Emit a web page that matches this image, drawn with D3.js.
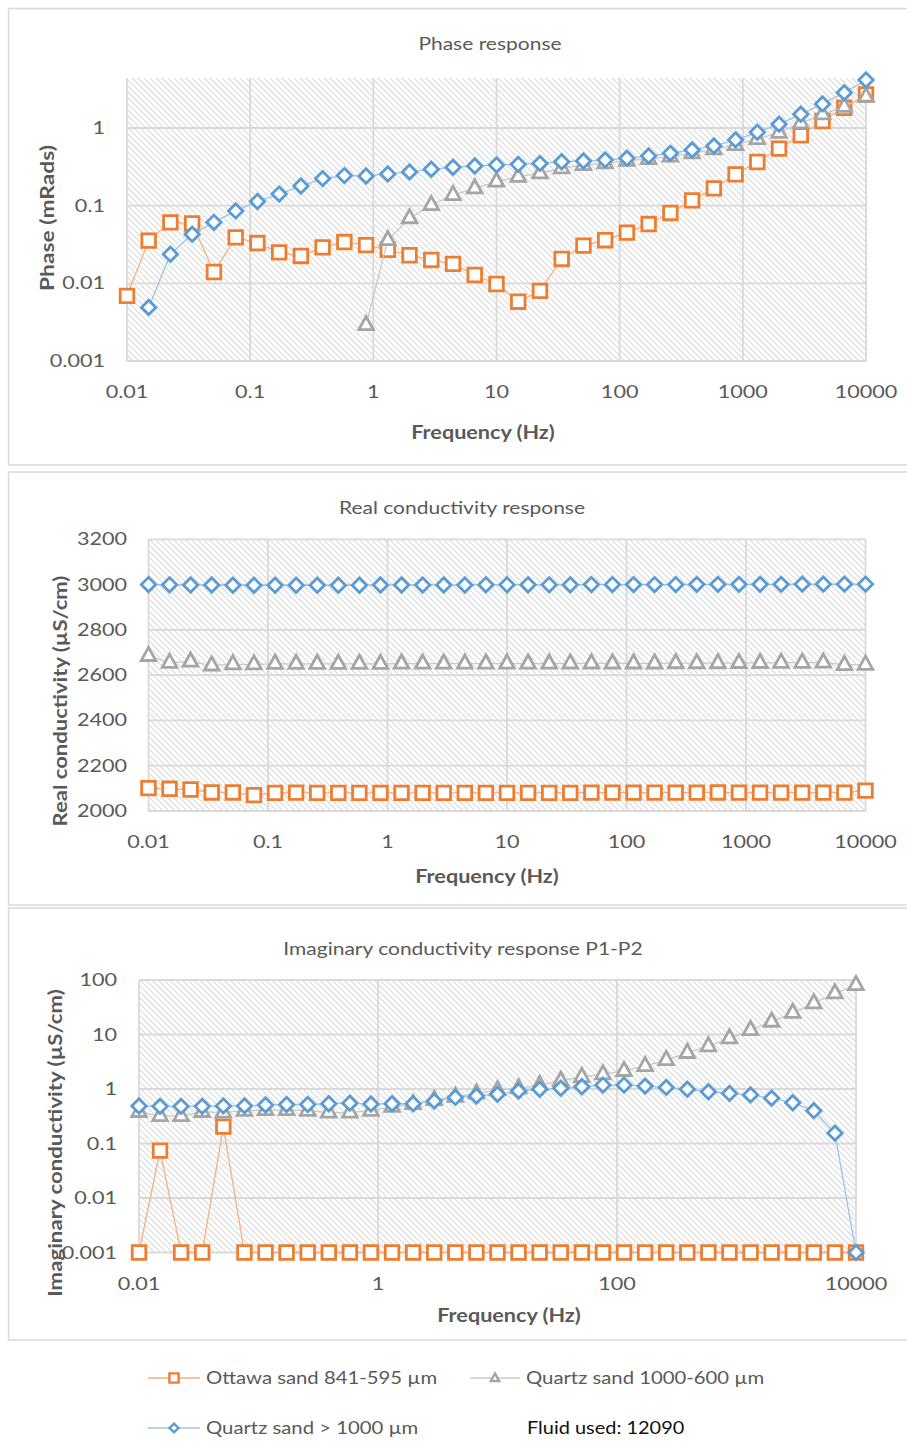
<!DOCTYPE html>
<html>
<head>
<meta charset="utf-8">
<script src="https://cdn.jsdelivr.net/npm/d3@7"></script>
<style>
  body { margin: 0; background: #fff; }
  svg { display: block; }
</style>
</head>
<body>
<div id="chart"></div>
<script>
// measurement frequencies (Hz), 35 steps from 0.01 to 10000
const frequencies = [0.01, 0.015, 0.0225, 0.0338, 0.0508, 0.0763, 0.1145, 0.1719, 0.2581, 0.3875,
    0.5818, 0.8733, 1.311, 1.968, 2.955, 4.437, 6.661, 10, 15.01, 22.54, 33.84, 50.81, 76.28,
    114.5, 171.9, 258.1, 387.5, 581.8, 873.3, 1311, 1968, 2955, 4437, 6661, 10000];

const seriesNames = ['Ottawa sand 841-595 µm', 'Quartz sand 1000-600 µm', 'Quartz sand > 1000 µm'];

// Phase (mRads)
const ottawaPhase = [0.0069, 0.0355, 0.061, 0.059, 0.014, 0.039, 0.033, 0.025, 0.0225, 0.029,
    0.034, 0.031, 0.027, 0.023, 0.020, 0.0178, 0.0128, 0.0098, 0.0058, 0.008, 0.0206, 0.0306,
    0.0359, 0.045, 0.058, 0.0805, 0.117, 0.167, 0.253, 0.365, 0.542, 0.805, 1.23, 1.82, 2.7];
const quartzFinePhase = [null, null, null, null, null, null, null, null, null, null, null,
    0.0029, 0.036, 0.069, 0.102, 0.137, 0.167, 0.204, 0.236, 0.261, 0.303, 0.334, 0.351, 0.379,
    0.399, 0.428, 0.472, 0.532, 0.604, 0.722, 0.87, 1.15, 1.5, 1.88, 2.53];
const quartzCoarsePhase = [null, 0.0049, 0.0237, 0.0428, 0.061, 0.0855, 0.113, 0.141, 0.179,
    0.223, 0.244, 0.241, 0.256, 0.272, 0.294, 0.312, 0.324, 0.334, 0.34, 0.35, 0.368, 0.376,
    0.388, 0.407, 0.436, 0.472, 0.521, 0.587, 0.702, 0.88, 1.12, 1.5, 2.04, 2.85, 4.15];

// Real conductivity (µS/cm)
const ottawaReal = [2101, 2098, 2095, 2082, 2082, 2070, 2080, 2081, 2080, 2080, 2080, 2080,
    2080, 2080, 2080, 2080, 2080, 2080, 2080, 2080, 2080, 2081, 2081, 2081, 2081, 2081, 2081,
    2082, 2081, 2081, 2081, 2081, 2081, 2081, 2090];
const quartzFineReal = [2685, 2655, 2660, 2643, 2648, 2648, 2650, 2650, 2650, 2650, 2650, 2650,
    2651, 2651, 2651, 2651, 2651, 2651, 2651, 2651, 2652, 2652, 2652, 2652, 2652, 2653, 2653,
    2653, 2654, 2654, 2655, 2655, 2656, 2645, 2646];
const quartzCoarseReal = [3000, 2999, 2998, 2998, 2997, 2997, 2997, 2997, 2997, 2997, 2997,
    2998, 2998, 2998, 2998, 2998, 2999, 2999, 2999, 2999, 2999, 3000, 3000, 3000, 3000, 3000,
    3001, 3001, 3001, 3001, 3001, 3002, 3002, 3002, 3002];

// Imaginary conductivity (µS/cm)
const ottawaImag = [0.001, 0.074, 0.001, 0.001, 0.204, 0.001, 0.001, 0.001, 0.001, 0.001,
    0.001, 0.001, 0.001, 0.001, 0.001, 0.001, 0.001, 0.001, 0.001, 0.001, 0.001, 0.001, 0.001,
    0.001, 0.001, 0.001, 0.001, 0.001, 0.001, 0.001, 0.001, 0.001, 0.001, 0.001, 0.001];
const quartzFineImag = [0.38, 0.32, 0.32, 0.38, 0.37, 0.40, 0.41, 0.41, 0.40, 0.37, 0.37, 0.40,
    0.47, 0.53, 0.63, 0.72, 0.83, 0.95, 1.03, 1.18, 1.41, 1.66, 1.87, 2.15, 2.65, 3.4, 4.6, 6.1,
    8.5, 12.1, 17.2, 25, 37.5, 57, 81];
const quartzCoarseImag = [0.488, 0.48, 0.48, 0.48, 0.49, 0.49, 0.508, 0.52, 0.52, 0.536, 0.55,
    0.53, 0.536, 0.536, 0.6, 0.70, 0.745, 0.80, 0.92, 0.99, 1.03, 1.10, 1.18, 1.18, 1.13, 1.07,
    0.99, 0.89, 0.83, 0.78, 0.68, 0.56, 0.40, 0.155, 0.001];

// tick values
const freqTicksAll = [0.01, 0.1, 1, 10, 100, 1000, 10000];
const freqTicksSparse = [0.01, 1, 100, 10000];
const phaseTicks = [0.001, 0.01, 0.1, 1];
const realTicks = [2000, 2200, 2400, 2600, 2800, 3000, 3200];
const imagTicks = [0.001, 0.01, 0.1, 1, 10, 100];

const W = 907, H = 1441;
const TEXT = '#595959';
const GRID = '#d9d9d9';
const FONT = 'Lato, "Open Sans", sans-serif';
const STRETCH = 1.2;

const seriesStyles = [
    { marker: 'square', color: '#ed7d31', line: '#f4b183' },
    { marker: 'triangle', color: '#a5a5a5', line: '#c9c9c9' },
    { marker: 'diamond', color: '#5b9bd5', line: '#9dc3e6' }
];

const markerPaths = {
    square: 'M-6.8,-6.8H6.8V6.8H-6.8Z',
    triangle: 'M0,-8.6L7.3,4.6L-7.3,4.6Z',
    diamond: 'M0,-7.2L7.2,0L0,7.2L-7.2,0Z'
};

const svg = d3.select('#chart').append('svg')
    .attr('width', W)
    .attr('height', H)
    .attr('viewBox', [0, 0, W, H]);

const defs = svg.append('defs');
const hatch = defs.append('pattern')
    .attr('id', 'hatch')
    .attr('patternUnits', 'userSpaceOnUse')
    .attr('width', 6)
    .attr('height', 6);
hatch.append('path')
    .attr('d', 'M-1,-1L7,7M-1,5L1,7M5,-1L7,1')
    .attr('stroke', '#dadada')
    .attr('stroke-width', 1.1)
    .attr('fill', 'none');

function addText(g, x, y, str, opts = {}) {
    const rot = opts.rotate ? ' rotate(-90)' : '';
    const stretch = opts.stretch || STRETCH;
    return g.append('text')
        .attr('transform', `translate(${x},${y})${rot} scale(${stretch},1)`)
        .attr('text-anchor', opts.anchor || 'middle')
        .attr('font-family', opts.family || FONT)
        .attr('font-size', opts.size || 18)
        .attr('font-weight', opts.weight || 'normal')
        .attr('fill', opts.fill || TEXT)
        .text(str);
}

function fmtTick(v) {
    return v >= 1 ? d3.format('d')(v) : String(v);
}

function drawPanel(cfg) {
    const g = svg.append('g');

    // outer chart box
    g.append('rect')
        .attr('x', 8.5).attr('y', cfg.box[0])
        .attr('width', W + 10).attr('height', cfg.box[1] - cfg.box[0])
        .attr('fill', '#fff')
        .attr('stroke', GRID)
        .attr('stroke-width', 1.5);

    const x = d3.scaleLog().domain([0.01, 10000]).range(cfg.xRange);
    const y = cfg.yScale;

    const [px0, px1] = cfg.xRange;
    const [py1, py0] = y.range();

    g.append('rect')
        .attr('x', px0).attr('y', py0)
        .attr('width', px1 - px0).attr('height', py1 - py0)
        .attr('fill', 'url(#hatch)');

    // gridlines
    g.append('g').selectAll('line.h')
        .data(cfg.yTicks)
        .join('line')
        .attr('x1', px0).attr('x2', px1)
        .attr('y1', d => y(d)).attr('y2', d => y(d))
        .attr('stroke', GRID).attr('stroke-width', 1.8);
    g.append('g').selectAll('line.v')
        .data(cfg.xTicks)
        .join('line')
        .attr('x1', d => x(d)).attr('x2', d => x(d))
        .attr('y1', py0).attr('y2', py1)
        .attr('stroke', GRID).attr('stroke-width', 1.8);

    // tick labels
    cfg.xTicks.forEach(t => addText(g, x(t), cfg.xTickY, fmtTick(t)));
    cfg.yTicks.forEach(t => addText(g, cfg.yTickX, y(t) + 6, fmtTick(t), { anchor: 'end' }));

    // titles
    addText(g, cfg.title[0], cfg.title[1], cfg.title[2], { size: 17.5 });
    addText(g, cfg.xTitle[0], cfg.xTitle[1], 'Frequency (Hz)', { weight: 'bold' });
    addText(g, cfg.yTitle[0], cfg.yTitle[1], cfg.yTitle[2],
        { weight: 'bold', rotate: true, size: 19, stretch: cfg.yTitle[3] });

    // series: lines first, then markers, in series order
    cfg.series.forEach((values, i) => {
        const style = seriesStyles[i];
        const pts = frequencies.map((f, k) => ({ f, v: values[k] }));
        const line = d3.line()
            .defined(d => d.v != null)
            .x(d => x(d.f))
            .y(d => y(d.v));
        g.append('path')
            .datum(pts)
            .attr('d', line)
            .attr('fill', 'none')
            .attr('stroke', style.line)
            .attr('stroke-width', 1.3);
        g.append('g').selectAll('path')
            .data(pts.filter(d => d.v != null))
            .join('path')
            .attr('transform', d => `translate(${x(d.f)},${y(d.v)})`)
            .attr('d', markerPaths[style.marker])
            .attr('fill', '#fff')
            .attr('stroke', style.color)
            .attr('stroke-width', 2.8)
            .attr('stroke-linejoin', 'miter');
    });
}

drawPanel({
    box: [8.5, 465],
    xRange: [127, 866],
    yScale: d3.scaleLog().domain([0.001, 4.4]).range([361, 78]),
    xTicks: freqTicksAll,
    yTicks: phaseTicks,
    xTickY: 398,
    yTickX: 105,
    title: [490, 50, 'Phase response'],
    xTitle: [483, 439],
    yTitle: [54, 218, 'Phase (mRads)', 1.2],
    series: [ottawaPhase, quartzFinePhase, quartzCoarsePhase]
});

drawPanel({
    box: [472, 905],
    xRange: [148.5, 865.5],
    yScale: d3.scaleLinear().domain([2000, 3200]).range([811, 539.3]),
    xTicks: freqTicksAll,
    yTicks: realTicks,
    xTickY: 848,
    yTickX: 127,
    title: [462, 514, 'Real conductivity response'],
    xTitle: [487, 883],
    yTitle: [67, 701, 'Real conductivity (µS/cm)', 1.16],
    series: [ottawaReal, quartzFineReal, quartzCoarseReal]
});

drawPanel({
    box: [908, 1340],
    xRange: [139, 856],
    yScale: d3.scaleLog().domain([0.001, 100]).range([1252.5, 980]),
    xTicks: freqTicksSparse,
    yTicks: imagTicks,
    xTickY: 1290,
    yTickX: 117,
    title: [463, 955, 'Imaginary conductivity response P1-P2'],
    xTitle: [509, 1322],
    yTitle: [62, 1143, 'Imaginary conductivity (µS/cm)', 1.17],
    series: [ottawaImag, quartzFineImag, quartzCoarseImag]
});

// legend
const legend = svg.append('g');
const legendItems = [
    { x: 148, y: 1378 },
    { x: 470, y: 1378 },
    { x: 148, y: 1428 }
];
const legendMarkers = {
    square: 'M-4.6,-4.6H4.6V4.6H-4.6Z',
    triangle: 'M0,-4.6L4.2,3L-4.2,3Z',
    diamond: 'M0,-4.4L4.4,0L0,4.4L-4.4,0Z'
};
legendItems.forEach((pos, i) => {
    const style = seriesStyles[i];
    const len = i === 1 ? 50 : 52;
    legend.append('line')
        .attr('x1', pos.x).attr('x2', pos.x + len)
        .attr('y1', pos.y).attr('y2', pos.y)
        .attr('stroke', style.line).attr('stroke-width', 1.3);
    legend.append('path')
        .attr('transform', `translate(${pos.x + len / 2},${pos.y})`)
        .attr('d', legendMarkers[style.marker])
        .attr('fill', '#fff')
        .attr('stroke', style.color)
        .attr('stroke-width', 2.4);
    addText(legend, pos.x + len + 6, pos.y + 6, seriesNames[i],
        { anchor: 'start', size: 17.5, stretch: 1.16 });
});
addText(legend, 527, 1434, 'Fluid used: 12090', { anchor: 'start', fill: '#111', size: 17.5, stretch: 1.14 });
</script>
</body>
</html>
